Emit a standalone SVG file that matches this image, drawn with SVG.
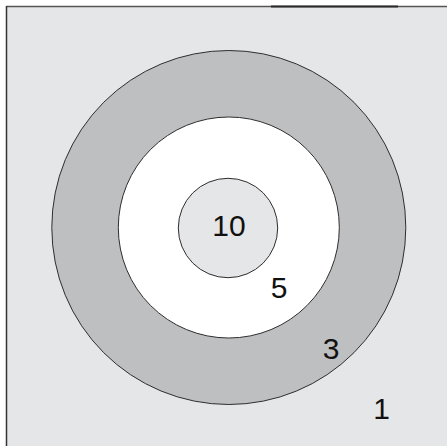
<svg xmlns="http://www.w3.org/2000/svg" width="447" height="446" viewBox="0 0 447 446">
<style>
.ring{stroke:#2e2e2e;stroke-width:1}
.lbl{font-family:"Liberation Sans",Arial,sans-serif;font-size:30px;fill:#111;text-anchor:middle}
</style>
<rect x="0" y="0" width="447" height="446" fill="#ffffff"/>
<rect x="6.5" y="6.5" width="441" height="440" fill="#e5e6e7"/>
<g id="frame">
<line x1="6.5" y1="6.5" x2="447" y2="6.5" stroke="#555" stroke-width="1.5"/>
<line x1="271" y1="6.5" x2="398" y2="6.5" stroke="#2a2a2a" stroke-width="2"/>
<line x1="6.5" y1="6" x2="6.5" y2="446" stroke="#333" stroke-width="1.5"/>
</g>
<g id="ring1"><circle class="ring" cx="228.8" cy="227.5" r="177" fill="#bebfc1"/></g>
<g id="ring2"><circle class="ring" cx="228.8" cy="227.5" r="110.5" fill="#ffffff"/></g>
<g id="ring3"><circle class="ring" cx="228" cy="228" r="49.7" fill="#e5e6e7"/></g>
<g id="labels">
<text class="lbl" x="229" y="236">10</text>
<text class="lbl" x="279" y="298">5</text>
<text class="lbl" x="331" y="359">3</text>
<text class="lbl" x="381.5" y="419">1</text>
</g>
</svg>
